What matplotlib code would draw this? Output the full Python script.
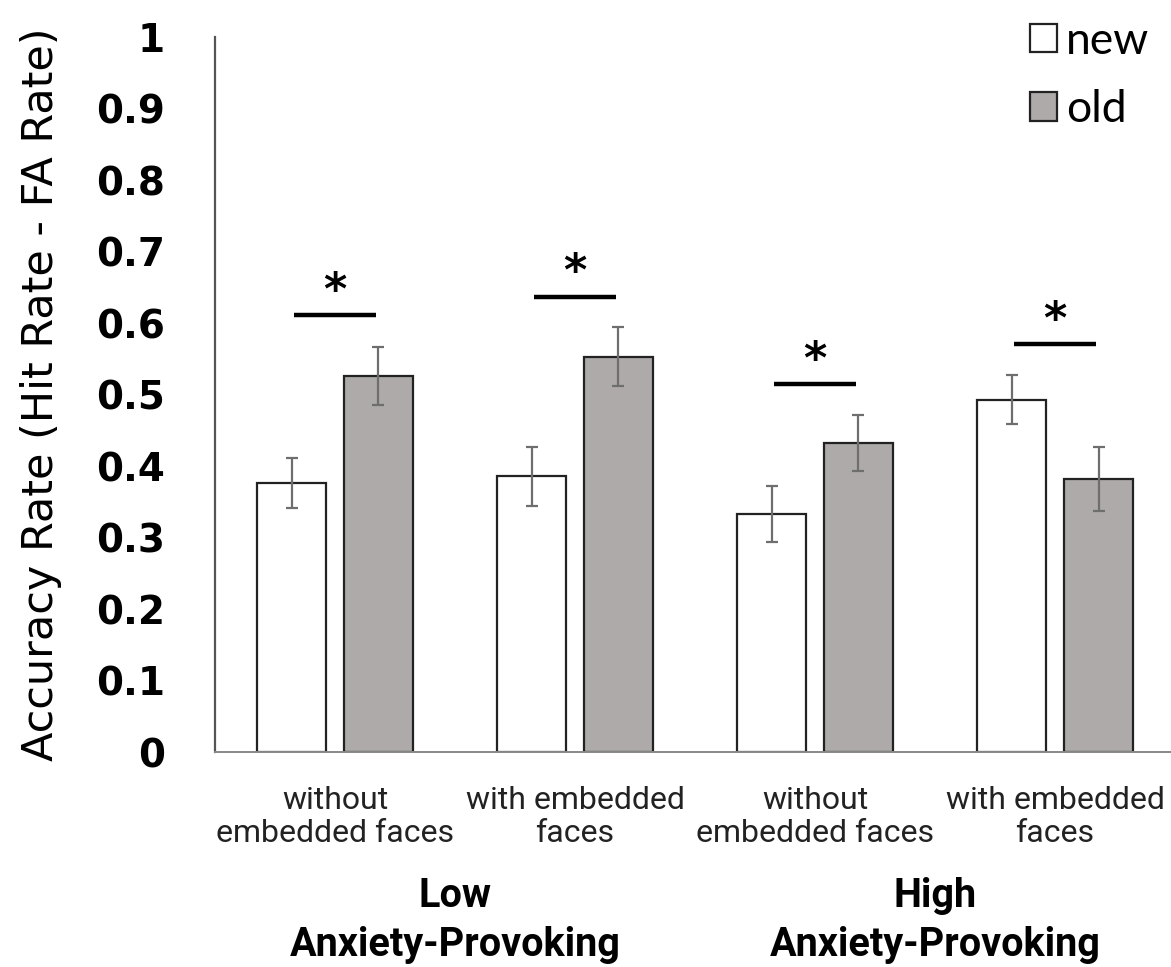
import numpy as np
import matplotlib.pyplot as plt
from matplotlib.patches import Patch

# data
conditions = ['without\nembedded faces', 'with embedded\nfaces',
              'without\nembedded faces', 'with embedded\nfaces']
groups = ['Low\nAnxiety-Provoking', 'High\nAnxiety-Provoking']
new_vals = [0.377, 0.386, 0.333, 0.493]
new_err = [0.035, 0.041, 0.039, 0.034]
old_vals = [0.526, 0.553, 0.432, 0.382]
old_err = [0.040, 0.041, 0.039, 0.045]
sig_y = [0.611, 0.637, 0.515, 0.571]

fig = plt.figure(figsize=(11.71, 9.67), dpi=100)
ax = fig.add_axes([0.1836, 0.222, 0.8164, 0.7398])

x = np.arange(len(conditions))
w = 0.2875
off = 0.181
ax.bar(x - off, new_vals, w, color='white', edgecolor='#222222', linewidth=1.6, label='new', zorder=2)
ax.bar(x + off, old_vals, w, color='#adaaa9', edgecolor='#222222', linewidth=1.6, label='old', zorder=2)
ax.errorbar(x - off, new_vals, yerr=new_err, fmt='none', ecolor='#6e6e6e', elinewidth=1.6, capsize=4, capthick=1.6, zorder=3)
ax.errorbar(x + off, old_vals, yerr=old_err, fmt='none', ecolor='#6e6e6e', elinewidth=1.6, capsize=4, capthick=1.6, zorder=3)

# significance markers
for i, s in enumerate(sig_y):
    ax.plot([x[i] - 0.17, x[i] + 0.17], [s, s], color='black', lw=3.2, solid_capstyle='butt')
    ax.text(x[i], s + 0.003, '*', ha='center', va='bottom', fontsize=32, fontweight='bold')

ax.set_xlim(-0.5, 3.483)
ax.set_ylim(0, 1)
ax.set_yticks(np.arange(0, 1.01, 0.1))
ax.set_yticklabels(['0'] + ['%.1f' % v for v in np.arange(0.1, 0.95, 0.1)] + ['1'],
                   fontsize=28, fontweight='bold')
ax.tick_params(axis='y', length=0, pad=36)
ax.set_xticks(x)
ax.set_xticklabels(conditions, fontsize=23, family='Roboto', color='#222222')
ax.tick_params(axis='x', length=0, pad=24)

for sp in ['top', 'right']:
    ax.spines[sp].set_visible(False)
ax.spines['left'].set_color('#555555')
ax.spines['left'].set_linewidth(1.6)
ax.spines['bottom'].set_color('#888888')
ax.spines['bottom'].set_linewidth(1.4)

ax.set_ylabel('Accuracy Rate (Hit Rate - FA Rate)', fontsize=31)
ax.yaxis.set_label_coords(-0.16, 0.5)

for j, g in enumerate(groups):
    cx = (x[2 * j] + x[2 * j + 1]) / 2
    ax.text(cx, -0.174, g, transform=ax.get_xaxis_transform(), ha='center', va='top',
            fontsize=28.5, fontweight='bold', family='Roboto', linespacing=1.38)

handles = [Patch(facecolor='white', edgecolor='#222222', linewidth=1.6, label='new'),
           Patch(facecolor='#adaaa9', edgecolor='#222222', linewidth=1.6, label='old')]
ax.legend(handles=handles, loc='upper right', bbox_to_anchor=(1.005, 1.06), frameon=False,
          prop={'family': 'Lato', 'size': 32}, handlelength=0.6, handleheight=0.6,
          handletextpad=0.2, labelspacing=0.62, borderaxespad=0.2)

fig.savefig('out.png', dpi=100)
